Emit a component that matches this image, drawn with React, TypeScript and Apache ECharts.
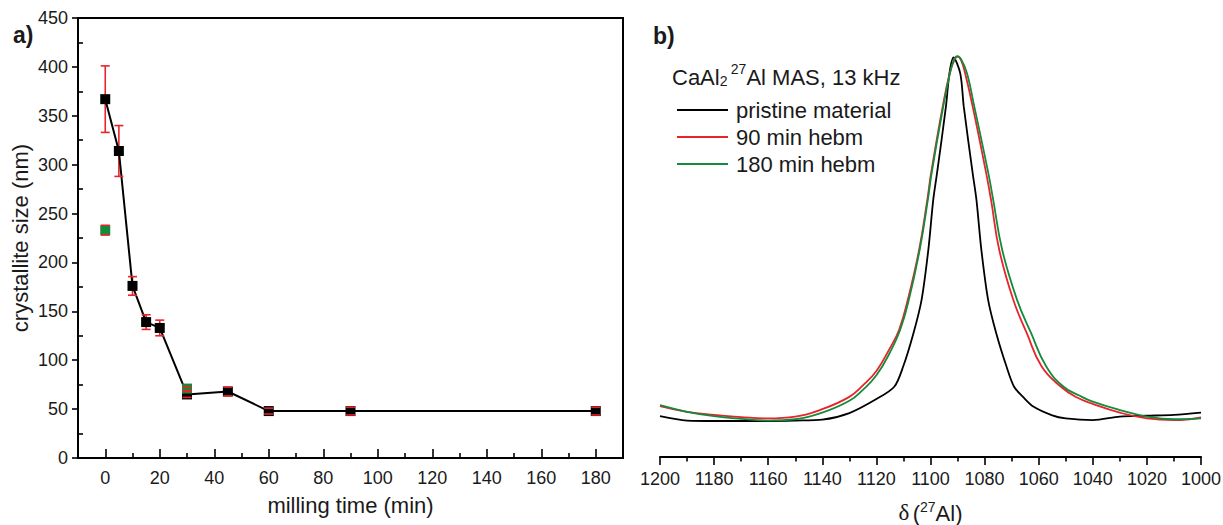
import React, { useEffect, useRef } from "react";
import * as echarts from "echarts";

// ---- Panel a) data ----
const millTime = [0, 5, 10, 15, 20, 30, 45, 60, 90, 180];
const crystSize = [367, 314, 176, 139, 133, 65, 68, 48, 48, 48];
const crystErr = [34, 26, 9.5, 7.5, 8, 3, 4.5, 3, 4, 4];
const hebmTime = [0, 30];
const hebmSize = [233, 71];
const hebmErr = [5, 2];

const xMajorTicks = [0, 20, 40, 60, 80, 100, 120, 140, 160, 180];
const xMinorTicks = [10, 30, 50, 70, 90, 110, 130, 150, 170];
const yMinorTicks = [25, 75, 125, 175, 225, 275, 325, 375, 425];

// ---- Panel b) data (27Al MAS NMR spectra) ----
const pristineShift = [1200, 1190, 1180, 1170, 1160, 1150, 1140, 1130, 1120, 1113.4, 1110.1, 1106.3, 1103.3, 1100.8, 1099.0, 1097.6, 1094.3, 1093.0, 1091.5, 1089.0, 1087.7, 1084.4, 1083.0, 1081.2, 1078.7, 1075.7, 1071.9, 1069.1, 1065.8, 1062, 1055, 1050, 1040, 1030, 1020, 1010, 1000];
const pristineInt = [9.3, 8.3, 8.2, 8.2, 8.2, 8.3, 8.5, 10.0, 13.2, 16.0, 20.6, 28.2, 35.8, 47.2, 58.5, 64.6, 79.8, 87.4, 91.0, 87.4, 79.8, 64.6, 58.5, 47.2, 35.8, 28.2, 20.6, 16.0, 13.7, 11.5, 9.5, 8.8, 8.4, 9.2, 9.4, 9.6, 10.1];

const hebm90Shift = [1200, 1190, 1180, 1170, 1160, 1150, 1140, 1130, 1125, 1120, 1115, 1111.6, 1108.4, 1104.2, 1101.2, 1099.8, 1095.5, 1092.9, 1091.2, 1090.0, 1088.7, 1087.2, 1084.4, 1079.4, 1077.6, 1074.6, 1069.4, 1064.4, 1058.9, 1051.8, 1046, 1040, 1030, 1020, 1010, 1000];
const hebm90Int = [11.6, 10.3, 9.6, 9.1, 8.8, 9.2, 10.9, 13.7, 16.3, 19.6, 24.8, 29.0, 35.8, 47.2, 58.5, 64.6, 79.8, 87.4, 90.4, 91.2, 90.4, 87.4, 79.8, 64.6, 58.5, 47.2, 35.8, 28.2, 20.6, 16.0, 13.6, 12.1, 10.1, 8.8, 8.4, 9.0];

const hebm180Shift = [1200, 1190, 1180, 1170, 1160, 1150, 1140, 1130, 1125, 1120, 1115, 1111.3, 1108.0, 1104.0, 1101.0, 1099.6, 1095.3, 1092.8, 1091.3, 1090.1, 1088.6, 1086.5, 1083.8, 1078.6, 1076.8, 1073.5, 1068.0, 1062.8, 1057.2, 1050.8, 1045, 1040, 1030, 1020, 1010, 1000];
const hebm180Int = [11.8, 10.3, 9.3, 8.7, 8.3, 8.6, 10.1, 12.8, 15.3, 18.6, 23.8, 28.8, 35.8, 47.2, 58.5, 64.6, 79.8, 87.4, 90.5, 91.3, 90.5, 87.4, 79.8, 64.6, 58.5, 47.2, 35.8, 28.2, 20.6, 16.0, 14.0, 12.6, 10.7, 9.2, 8.6, 8.8];

const RED = "#e8232a";
const GREEN = "#148a3c";
const FONT = "'Liberation Sans', Arial, sans-serif";
const TXT = "#1a1a1a";

const zip = (a: number[], b: number[]) => a.map((v, i) => [v, b[i]]);

export default function App() {
  const ref = useRef<HTMLDivElement>(null);
  useEffect(() => {
    if (!ref.current) return;
    const chart = echarts.init(ref.current, null, { renderer: "svg" });

    const errData = [
      ...millTime.map((t, i) => [t, crystSize[i] - crystErr[i], crystSize[i] + crystErr[i]]),
      ...hebmTime.map((t, i) => [t, hebmSize[i] - hebmErr[i], hebmSize[i] + hebmErr[i]]),
    ];

    const stemRender = (params: any, api: any) => {
      const x = api.value(0);
      const lo = api.coord([x, api.value(1)]);
      const hi = api.coord([x, api.value(2)]);
      return {
        type: "line",
        shape: { x1: lo[0], y1: lo[1], x2: hi[0], y2: hi[1] },
        style: { stroke: RED, lineWidth: 1.6 },
      };
    };
    const capRender = (params: any, api: any) => {
      const x = api.value(0);
      const lo = api.coord([x, api.value(1)]);
      const hi = api.coord([x, api.value(2)]);
      const w = 4.5;
      return {
        type: "group",
        children: [
          { type: "line", shape: { x1: lo[0] - w, y1: lo[1], x2: lo[0] + w, y2: lo[1] }, style: { stroke: RED, lineWidth: 1.6 } },
          { type: "line", shape: { x1: hi[0] - w, y1: hi[1], x2: hi[0] + w, y2: hi[1] }, style: { stroke: RED, lineWidth: 1.6 } },
        ],
      };
    };

    const axisLine = { show: true, onZero: false, lineStyle: { color: "#000", width: 2 } };
    const labelStyle = { color: TXT, fontSize: 18, fontFamily: FONT };

    chart.setOption({
      animation: false,
      textStyle: { fontFamily: FONT },
      grid: [
        { left: 78, right: 600, top: 18, bottom: 67, show: true, borderColor: "#000", borderWidth: 2, backgroundColor: "transparent", outerBoundsMode: "none", containLabel: false },
        { left: 660, right: 22, top: 18, bottom: 68, outerBoundsMode: "none", containLabel: false },
      ],
      xAxis: [
        {
          gridIndex: 0, type: "value", min: -10, max: 190, position: "bottom",
          axisLine,
          axisTick: { show: true, inside: true, length: 9, lineStyle: { color: "#000", width: 1.6 }, customValues: xMajorTicks },
          axisLabel: { ...labelStyle, margin: 11, customValues: xMajorTicks },
          splitLine: { show: false },
          name: "milling time (min)", nameLocation: "middle", nameGap: 36,
          nameTextStyle: { color: TXT, fontSize: 22, fontFamily: FONT },
        },
        {
          gridIndex: 0, type: "value", min: -10, max: 190, position: "bottom", offset: 0,
          axisLine: { show: false, onZero: false },
          axisTick: { show: true, inside: true, length: 5, lineStyle: { color: "#000", width: 1.6 }, customValues: xMinorTicks },
          axisLabel: { show: false, customValues: xMinorTicks },
          splitLine: { show: false },
        },
        {
          gridIndex: 1, type: "value", min: 1000, max: 1200, interval: 20, inverse: true, position: "bottom",
          axisLine,
          axisTick: { show: true, inside: false, length: 8, lineStyle: { color: "#000", width: 1.6 } },
          minorTick: { show: true, splitNumber: 2, length: 4.5, lineStyle: { color: "#000", width: 1.6 } },
          axisLabel: { ...labelStyle, margin: 13, formatter: (v: number) => String(v) },
          splitLine: { show: false },
          name: "{d|δ} {n|(}{s|27}{n|Al)}", nameLocation: "middle", nameGap: 43,
          nameTextStyle: {
            rich: {
              d: { fontFamily: "'Liberation Serif', 'DejaVu Serif', serif", fontSize: 23, color: TXT, verticalAlign: "bottom", lineHeight: 24 },
              n: { fontFamily: FONT, fontSize: 22, color: TXT, verticalAlign: "bottom", lineHeight: 24 },
              s: { fontFamily: FONT, fontSize: 14, color: TXT, verticalAlign: "top", lineHeight: 13 },
            },
          },
        },
      ],
      yAxis: [
        {
          gridIndex: 0, type: "value", min: 0, max: 450, interval: 50,
          axisLine,
          axisTick: { show: true, inside: false, length: 6, lineStyle: { color: "#000", width: 1.6 } },
          axisLabel: { ...labelStyle, margin: 10 },
          splitLine: { show: false },
          name: "crystallite size (nm)", nameLocation: "middle", nameGap: 47, nameRotate: 90,
          nameTextStyle: { color: TXT, fontSize: 22, fontFamily: FONT },
        },
        {
          gridIndex: 0, type: "value", min: 0, max: 450, position: "left", offset: 0,
          axisLine: { show: false, onZero: false },
          axisTick: { show: true, inside: true, length: 5, lineStyle: { color: "#000", width: 1.6 }, customValues: yMinorTicks },
          axisLabel: { show: false, customValues: yMinorTicks },
          splitLine: { show: false },
        },
        { gridIndex: 1, type: "value", min: 0, max: 100, show: false },
      ],
      legend: {
        data: ["pristine material", "90 min hebm", "180 min hebm"],
        orient: "vertical",
        left: 672,
        top: 94,
        itemWidth: 51,
        itemHeight: 14,
        itemGap: 5,
        icon: "path://M0,0 L51,0 L51,2 L0,2 Z",
        textStyle: { color: TXT, fontSize: 22, fontFamily: FONT, lineHeight: 22, padding: [0, 0, 0, 3] },
      },
      graphic: [
        { type: "text", left: 13, top: 23, style: { text: "a)", font: "bold 23px 'Liberation Sans', Arial", fill: TXT } },
        { type: "text", left: 653, top: 24, style: { text: "b)", font: "bold 23px 'Liberation Sans', Arial", fill: TXT } },
        {
          type: "text", left: 672, top: 62,
          style: {
            text: "{n|CaAl}{b|2} {s|27}{n|Al MAS, 13 kHz}",
            rich: {
              n: { fontFamily: FONT, fontSize: 22, fill: TXT, verticalAlign: "bottom", lineHeight: 26 },
              b: { fontFamily: FONT, fontSize: 14, fill: TXT, verticalAlign: "bottom", lineHeight: 13 },
              s: { fontFamily: FONT, fontSize: 14, fill: TXT, verticalAlign: "top", lineHeight: 14 },
            },
          },
        },
      ],
      series: [
        {
          type: "custom", name: "err-stem", xAxisIndex: 0, yAxisIndex: 0, z: 1,
          renderItem: stemRender, data: errData, encode: { x: 0, y: [1, 2] },
        },
        {
          type: "line", name: "crystallite", xAxisIndex: 0, yAxisIndex: 0, z: 2,
          data: zip(millTime, crystSize), symbol: "rect", symbolSize: 10, showSymbol: true,
          itemStyle: { color: "#000" }, lineStyle: { color: "#000", width: 2 },
        },
        {
          type: "scatter", name: "hebm", xAxisIndex: 0, yAxisIndex: 0, z: 3,
          data: zip(hebmTime, hebmSize), symbol: "rect", symbolSize: 10,
          itemStyle: { color: GREEN, opacity: 1 },
        },
        {
          type: "custom", name: "err-cap", xAxisIndex: 0, yAxisIndex: 0, z: 4,
          renderItem: capRender, data: errData, encode: { x: 0, y: [1, 2] },
        },
        {
          type: "line", name: "pristine material", xAxisIndex: 2, yAxisIndex: 2,
          data: zip(pristineShift, pristineInt), showSymbol: false, symbol: "none", smooth: 0.3,
          itemStyle: { color: "#000" }, lineStyle: { color: "#000", width: 1.8 },
        },
        {
          type: "line", name: "90 min hebm", xAxisIndex: 2, yAxisIndex: 2,
          data: zip(hebm90Shift, hebm90Int), showSymbol: false, symbol: "none", smooth: 0.45,
          itemStyle: { color: RED }, lineStyle: { color: RED, width: 1.8 },
        },
        {
          type: "line", name: "180 min hebm", xAxisIndex: 2, yAxisIndex: 2,
          data: zip(hebm180Shift, hebm180Int), showSymbol: false, symbol: "none", smooth: 0.45,
          itemStyle: { color: GREEN }, lineStyle: { color: GREEN, width: 1.8 },
        },
      ],
    });
    return () => chart.dispose();
  }, []);

  return <div ref={ref} style={{ position: "fixed", left: 0, top: 0, width: 1223, height: 525, background: "#fff" }} />;
}
